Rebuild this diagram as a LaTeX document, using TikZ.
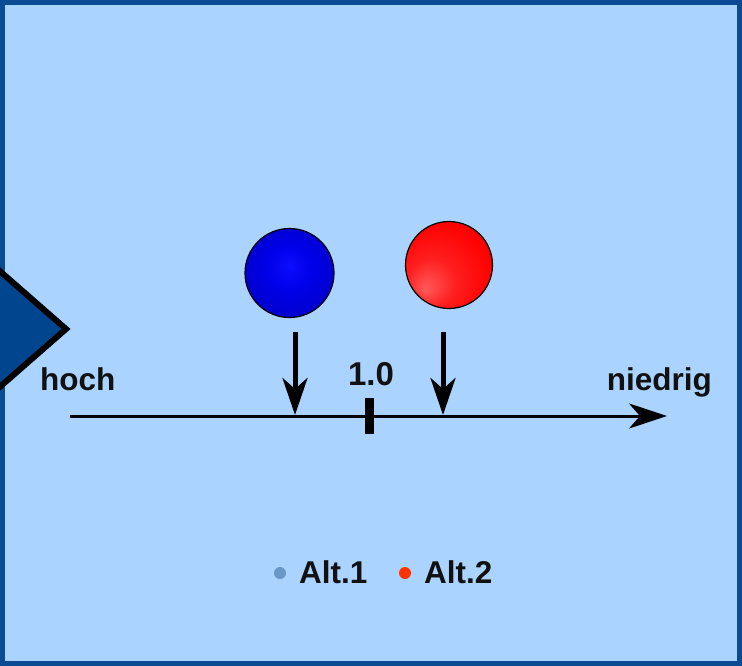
\documentclass[tikz,border=0pt]{standalone}
\usepackage{fontspec}
\setmainfont{Liberation Sans}
\usetikzlibrary{arrows.meta}

\definecolor{panelbg}{HTML}{AAD4FF}
\definecolor{panelframe}{HTML}{0A4B93}
\definecolor{wedgeblue}{HTML}{00468F}
\definecolor{labeltext}{HTML}{111111}
\definecolor{legendone}{HTML}{6A96C8}
\definecolor{legendtwo}{HTML}{FF3300}

% shaded spheres
\pgfdeclareradialshading{blueball}{\pgfpoint{0bp}{4bp}}{%
  color(0bp)=(blue!95!white); color(12bp)=(blue!92!black);
  color(30bp)=(blue!78!black); color(50bp)=(blue!62!black)}
\pgfdeclareradialshading{redball}{\pgfpoint{-14bp}{-14bp}}{%
  color(0bp)=(red!65!white); color(14bp)=(red!88!white);
  color(30bp)=(red); color(50bp)=(red!72!black)}

\tikzset{
  lbl/.style={font=\fontsize{31.5}{34}\selectfont\bfseries, text=labeltext, inner sep=0pt},
  ball/.style={circle, draw=black, line width=1.2pt, minimum size=#1, inner sep=0pt},
  pointer/.style={line width=5pt, -{Stealth[length=37pt,width=25pt,inset=11pt]}},
  axisline/.style={line width=3pt, -{Stealth[length=38pt,width=25pt,inset=11pt]}},
  legenddot/.style={circle, minimum size=12pt, inner sep=0pt},
}

\begin{document}
\begin{tikzpicture}[x=1pt,y=-1pt]
  \useasboundingbox (0,0) rectangle (742,666);
  % panel
  \fill[panelbg] (0,0) rectangle (742,666);
  \draw[panelframe, line width=5pt] (2.5,2.5) rectangle (739.5,663.5);

  % wedge entering from the left edge
  \begin{scope}
    \clip (0,0) rectangle (742,666);
    \draw[fill=wedgeblue, draw=black, line width=6pt, line join=miter]
      (-70,210) -- (66,329) -- (-70,448) -- cycle;
  \end{scope}

  % alternatives
  \node[ball=89pt, shading=blueball] (alt1) at (289.5,273) {};
  \node[ball=87pt, shading=redball] (alt2) at (449,265) {};

  % scale
  \coordinate (axL) at (70,416);
  \coordinate (axR) at (667,416);
  \draw[axisline] (axL) -- (axR);
  \coordinate (tickTop) at (369,398);
  \coordinate (tickBot) at (369,434);
  \draw[line width=9pt, black] (tickTop) -- (tickBot);

  % pointers onto the scale
  \coordinate (p1s) at (295,332);
  \coordinate (p1e) at (295,415);
  \coordinate (p2s) at (443,332);
  \coordinate (p2e) at (443,415);
  \draw[pointer] (p1s) -- (p1e);
  \draw[pointer] (p2s) -- (p2e);

  % labels
  \node[lbl, anchor=base west] (hoch) at (40,390) {hoch};
  \node[lbl, anchor=base east] (niedrig) at (712,390) {niedrig};
  \node[lbl, anchor=base, font=\fontsize{33}{36}\selectfont\bfseries] (one) at (371,385) {1.0};

  % legend
  \node[legenddot, fill=legendone] (l1) at (280,573) {};
  \node[lbl, anchor=base west] (l1t) at (299,583) {Alt.1};
  \node[legenddot, fill=legendtwo] (l2) at (405,573) {};
  \node[lbl, anchor=base west] (l2t) at (424,583) {Alt.2};
\end{tikzpicture}
\end{document}
